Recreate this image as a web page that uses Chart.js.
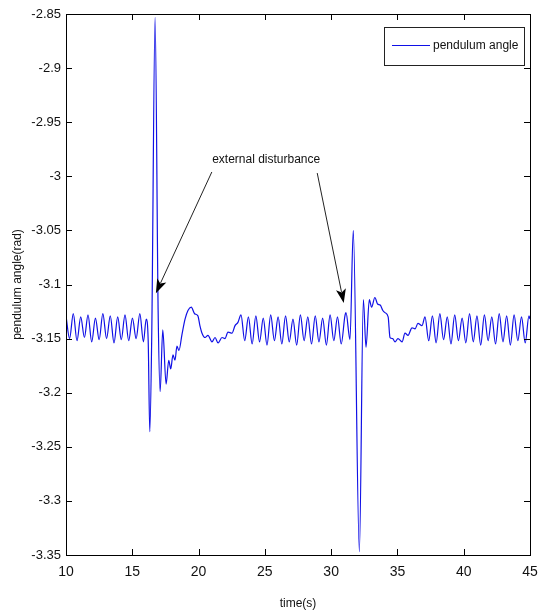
<!DOCTYPE html>
<html>
<head>
<meta charset="utf-8">
<script src="https://cdn.jsdelivr.net/npm/chart.js@4"></script>
<style>
html,body{margin:0;padding:0;background:#fff;}
#wrap{width:539px;height:616px;position:relative;}
</style>
</head>
<body>
<div id="wrap"><canvas id="c" width="539" height="616"></canvas></div>
<script>
const seriesName = 'pendulum angle';
const xTitle = 'time(s)';
const yTitle = 'pendulum angle(rad)';
const annotationText = 'external disturbance';
const xTickValues = [10, 15, 20, 25, 30, 35, 40, 45];
const yTickValues = [-3.35, -3.3, -3.25, -3.2, -3.15, -3.1, -3.05, -3, -2.95, -2.9, -2.85];
const yTickLabels = ['-3.35', '-3.3', '-3.25', '-3.2', '-3.15', '-3.1', '-3.05', '-3', '-2.95', '-2.9', '-2.85'];

const times = [
  10.00, 10.27, 10.55, 10.83, 11.11, 11.39, 11.66, 11.94, 12.22, 12.50, 12.78, 13.06,
  13.34, 13.62, 13.90, 14.17, 14.45, 14.73, 15.01, 15.29, 15.57, 15.84, 16.05,
  16.20, 16.32, 16.47, 16.72, 16.95, 17.10, 17.30, 17.55, 17.75, 17.90, 18.07, 18.22,
  18.37, 18.52, 18.75, 18.98, 19.20, 19.45, 19.70, 19.95, 20.10, 20.26, 20.49, 20.71,
  21.01, 21.24, 21.47, 21.77, 21.99, 22.22, 22.52, 22.75, 22.97,
  23.20, 23.48, 23.76, 24.04, 24.32, 24.60, 24.88, 25.16, 25.44, 25.72, 26.00, 26.28,
  26.56, 26.84, 27.12, 27.40, 27.68, 27.96, 28.24, 28.52, 28.80, 29.08, 29.36, 29.64,
  29.92, 30.20, 30.48, 30.76, 31.04, 31.12, 31.42,
  31.67, 32.13, 32.43, 32.63, 32.88, 33.05, 33.30, 33.50, 33.70, 33.90, 34.06, 34.30,
  34.44, 34.64, 34.82, 35.04, 35.35, 35.57, 35.80, 36.10, 36.33, 36.55, 36.85, 37.08,
  37.36, 37.64, 37.92, 38.20, 38.48, 38.76, 39.04, 39.32, 39.60, 39.88, 40.16, 40.44,
  40.72, 41.00, 41.28, 41.56, 41.84, 42.12, 42.40, 42.68, 42.96, 43.24, 43.52, 43.80,
  44.08, 44.36, 44.64, 44.92, 45.00
];
const angles = [
  -3.129, -3.150, -3.127, -3.152, -3.130, -3.149, -3.128, -3.153, -3.131, -3.151, -3.127, -3.150,
  -3.129, -3.154, -3.130, -3.151, -3.128, -3.152, -3.131, -3.150, -3.127, -3.153, -3.132,
  -3.152, -3.236, -3.145, -2.853, -3.125, -3.199, -3.142, -3.192, -3.170, -3.178, -3.165, -3.170,
  -3.157, -3.161, -3.146, -3.132, -3.124, -3.121, -3.127, -3.129, -3.138, -3.145, -3.149, -3.147,
  -3.153, -3.149, -3.154, -3.149, -3.150, -3.144, -3.145, -3.138, -3.135,
  -3.128, -3.152, -3.130, -3.155, -3.129, -3.153, -3.131, -3.156, -3.128, -3.152, -3.130, -3.155,
  -3.129, -3.153, -3.132, -3.156, -3.128, -3.152, -3.130, -3.155, -3.129, -3.153, -3.131, -3.156,
  -3.128, -3.152, -3.130, -3.155, -3.129, -3.126, -3.151,
  -3.050, -3.347, -3.114, -3.158, -3.114, -3.121, -3.112, -3.118, -3.119, -3.124, -3.126, -3.130,
  -3.149, -3.150, -3.153, -3.150, -3.153, -3.145, -3.147, -3.140, -3.141, -3.136, -3.138, -3.130,
  -3.152, -3.129, -3.154, -3.127, -3.151, -3.130, -3.155, -3.128, -3.152, -3.131, -3.154, -3.127,
  -3.153, -3.129, -3.156, -3.128, -3.152, -3.130, -3.155, -3.127, -3.153, -3.129, -3.156, -3.128,
  -3.152, -3.130, -3.154, -3.129, -3.132
];
// annotation anchor points, in data units
const annoTextPos = [25.1, -2.985];
const arrowStarts = [[21.0, -2.996], [28.95, -2.997]];
const arrowTips = [[16.78, -3.108], [30.95, -3.117]];

const FONT = "'Liberation Sans',Arial,sans-serif";
const LINE_COLOR = '#1010e6';

const points = times.map((t, i) => ({x: t, y: angles[i]}));

const framePlugin = {
  id: 'frame',
  afterDraw(chart) {
    const {ctx, chartArea: a, scales: {x, y}} = chart;
    ctx.save();
    ctx.strokeStyle = '#000';
    ctx.lineWidth = 1;
    ctx.strokeRect(Math.round(a.left) + 0.5, Math.round(a.top) + 0.5,
                   Math.round(a.right - a.left), Math.round(a.bottom - a.top));
    const tl = 6;
    ctx.beginPath();
    xTickValues.forEach(v => {
      const px = Math.round(x.getPixelForValue(v)) + 0.5;
      ctx.moveTo(px, a.bottom); ctx.lineTo(px, a.bottom - tl);
      ctx.moveTo(px, a.top); ctx.lineTo(px, a.top + tl);
    });
    yTickValues.forEach(v => {
      const py = Math.round(y.getPixelForValue(v)) + 0.5;
      ctx.moveTo(a.left, py); ctx.lineTo(a.left + tl, py);
      ctx.moveTo(a.right, py); ctx.lineTo(a.right - tl, py);
    });
    ctx.stroke();

    // annotation text
    ctx.fillStyle = '#111';
    ctx.font = "12px " + FONT;
    ctx.textAlign = 'center';
    ctx.textBaseline = 'middle';
    ctx.fillText(annotationText, x.getPixelForValue(annoTextPos[0]), y.getPixelForValue(annoTextPos[1]));
    // arrows
    ctx.strokeStyle = '#222';
    ctx.fillStyle = '#000';
    arrowStarts.forEach((s, i) => {
      const x0 = x.getPixelForValue(s[0]), y0 = y.getPixelForValue(s[1]);
      const x1 = x.getPixelForValue(arrowTips[i][0]), y1 = y.getPixelForValue(arrowTips[i][1]);
      const ang = Math.atan2(y1 - y0, x1 - x0);
      const hl = 14, hw = 5;
      ctx.beginPath();
      ctx.moveTo(x0, y0);
      ctx.lineTo(x1 - Math.cos(ang) * hl * 0.8, y1 - Math.sin(ang) * hl * 0.8);
      ctx.stroke();
      ctx.beginPath();
      ctx.moveTo(x1, y1);
      ctx.lineTo(x1 - Math.cos(ang) * hl + Math.sin(ang) * hw, y1 - Math.sin(ang) * hl - Math.cos(ang) * hw);
      ctx.lineTo(x1 - Math.cos(ang) * hl * 0.75, y1 - Math.sin(ang) * hl * 0.75);
      ctx.lineTo(x1 - Math.cos(ang) * hl - Math.sin(ang) * hw, y1 - Math.sin(ang) * hl + Math.cos(ang) * hw);
      ctx.closePath();
      ctx.fill();
    });

    // legend box (top-right inside plot)
    const bw = 140, bh = 38;
    const bx = Math.round(a.right) - 6 - bw, by = Math.round(a.top) + 13;
    ctx.fillStyle = '#fff';
    ctx.fillRect(bx, by, bw, bh);
    ctx.strokeStyle = '#222';
    ctx.strokeRect(bx + 0.5, by + 0.5, bw, bh);
    ctx.strokeStyle = LINE_COLOR;
    ctx.lineWidth = 1.2;
    ctx.beginPath();
    ctx.moveTo(bx + 8, by + 18.5);
    ctx.lineTo(bx + 46, by + 18.5);
    ctx.stroke();
    ctx.fillStyle = '#111';
    ctx.font = "12px " + FONT;
    ctx.textAlign = 'left';
    ctx.fillText(seriesName, bx + 49, by + 19);
    ctx.restore();
  }
};

new Chart(document.getElementById('c'), {
  type: 'line',
  data: {
    datasets: [{
      label: seriesName,
      data: points,
      borderColor: LINE_COLOR,
      borderWidth: 1.2,
      pointRadius: 0,
      fill: false,
      cubicInterpolationMode: 'monotone'
    }]
  },
  options: {
    responsive: false,
    animation: false,
    devicePixelRatio: 1,
    layout: {padding: {left: 0, top: 14, right: 9, bottom: 0}},
    plugins: {legend: {display: false}, tooltip: {enabled: false}},
    scales: {
      x: {
        type: 'linear',
        min: 10, max: 45,
        afterBuildTicks: s => { s.ticks = xTickValues.map(v => ({value: v})); },
        afterFit: s => { s.height = 61; s.paddingLeft = 0; s.paddingRight = 0; },
        grid: {display: false, drawTicks: false},
        border: {display: false},
        ticks: {color: '#111', font: {family: FONT, size: 14}, padding: 9, maxRotation: 0,
                callback: v => String(v)},
        title: {display: true, text: xTitle, color: '#111',
                font: {family: FONT, size: 12}, padding: {top: 0, bottom: 5}}
      },
      y: {
        type: 'linear',
        min: -3.35, max: -2.85,
        afterBuildTicks: s => { s.ticks = yTickValues.map(v => ({value: v})); },
        afterFit: s => { s.width = 66; s.paddingTop = 0; s.paddingBottom = 0; },
        grid: {display: false, drawTicks: false},
        border: {display: false},
        ticks: {color: '#111', font: {family: FONT, size: 13}, padding: 5,
                callback: (v, i) => yTickLabels[i]},
        title: {display: true, text: yTitle, color: '#111',
                font: {family: FONT, size: 12}, padding: {top: 10, bottom: 0}}
      }
    }
  },
  plugins: [framePlugin]
});
</script>
</body>
</html>
